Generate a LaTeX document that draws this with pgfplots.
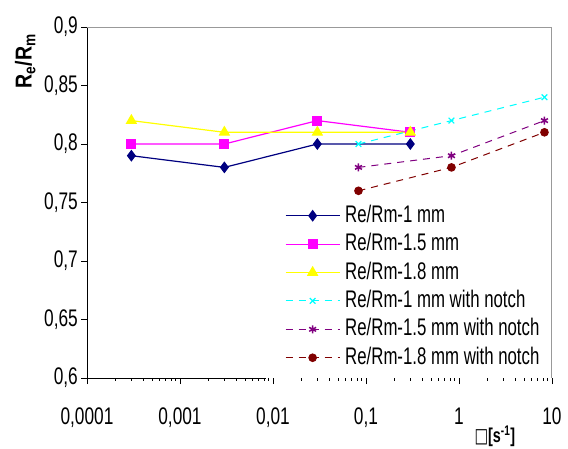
\documentclass[border=0pt]{standalone}
\usepackage{pgfplots}
\pgfplotsset{compat=1.18}
\usepackage{fontspec}
\setmainfont{Liberation Sans}
\newfontfamily\dejavu{DejaVu Sans}
\newcommand{\nar}[1]{\scalebox{0.72}[1]{#1}}
\newcommand{\narl}[1]{\scalebox{0.70}[1]{#1}}
\definecolor{cNavy}{RGB}{0,0,128}
\definecolor{cMag}{RGB}{255,0,255}
\definecolor{cYel}{RGB}{255,255,0}
\definecolor{cCya}{RGB}{0,255,255}
\definecolor{cPur}{RGB}{128,0,128}
\definecolor{cDred}{RGB}{128,0,0}
\begin{document}
\begin{tikzpicture}
\path[use as bounding box] (-87pt,-70pt) rectangle (481pt,378pt);
\begin{axis}[
  scale only axis, width=465pt, height=351pt,
  anchor=south west, at={(0pt,0pt)},
  xmode=log, xmin=1e-4, xmax=10, ymin=0.6, ymax=0.9,
  axis x line*=bottom, axis y line*=left,
  x axis line style={draw=none},
  y axis line style={black, line width=0.9pt},
  xtick={0.0001,0.001,0.01,0.1,1,10},
  xticklabels={{\nar{0,0001}},{\nar{0,001}},{\nar{0,01}},{\nar{0,1}},{\nar{1}},{\nar{10}}},
  minor xtick={},
  ytick={0.6,0.65,0.7,0.75,0.8,0.85,0.9},
  yticklabels={{\nar{0,6}},{\nar{0,65}},{\nar{0,7}},{\nar{0,75}},{\nar{0,8}},{\nar{0,85}},{\nar{0,9}}},
  tick align=outside, major tick length=6pt,
  tick style={black, line width=0.9pt},
  xticklabel style={yshift=-20pt, font=\fontsize{24}{26}\selectfont},
  yticklabel style={inner xsep=3pt, font=\fontsize{24}{26}\selectfont},
  ylabel={\scalebox{0.85}[1]{\textbf{R\textsubscript{e}/R\textsubscript{m}}}},
  ylabel style={at={(axis description cs:-0.133,0.903)}, anchor=center, font=\fontsize{23}{25}\selectfont},
  xlabel={\scalebox{0.72}[1]{\textbf{{\dejavu\mdseries □}[s\textsuperscript{-1}]}}},
  xlabel style={at={(axis description cs:0.877,-0.166)}, anchor=center, font=\fontsize{20}{22}\selectfont},
  legend style={at={(rel axis cs:0.419,0.507)}, anchor=north west, fill=white, draw=none,
    font=\fontsize{24}{26}\selectfont, row sep=1.4pt, column sep=3pt,
    nodes={inner sep=2pt, text height=18pt, text depth=5pt}},
  legend cell align=left,
  legend image code/.code={\draw[#1, mark repeat=2, mark phase=2] plot coordinates {(0pt,0pt) (27pt,0pt) (54pt,0pt)};},
  every axis plot/.append style={line width=1.2pt},
]
\addplot[cNavy, mark=diamond*, mark size=5pt] coordinates {(0.0003,0.79) (0.003,0.78) (0.03,0.80) (0.3,0.80)};
\addlegendentry{\narl{Re/Rm-1 mm}}
\addplot[cMag, mark=square*, mark size=4.5pt] coordinates {(0.0003,0.80) (0.003,0.80) (0.03,0.82) (0.3,0.81)};
\addlegendentry{\narl{Re/Rm-1.5 mm}}
\addplot[cYel, mark=triangle*, mark size=5.5pt] coordinates {(0.0003,0.82) (0.003,0.81) (0.03,0.81) (0.3,0.81)};
\addlegendentry{\narl{Re/Rm-1.8 mm}}
\addplot[cCya, dash pattern=on 7pt off 6pt, line width=1pt, mark=x, mark size=4pt, mark options={solid, line width=1.2pt}] coordinates {(0.083,0.80) (0.83,0.82) (8.3,0.84)};
\addlegendentry{\narl{Re/Rm-1 mm with notch}}
\addplot[cPur, dash pattern=on 7pt off 6pt, line width=1pt, mark=asterisk, mark size=4pt, mark options={solid, line width=1.5pt}] coordinates {(0.083,0.78) (0.83,0.79) (8.3,0.82)};
\addlegendentry{\narl{Re/Rm-1.5 mm with notch}}
\addplot[cDred, dash pattern=on 7pt off 6pt, line width=1pt, mark=*, mark size=3.8pt, mark options={solid}] coordinates {(0.083,0.76) (0.83,0.78) (8.3,0.81)};
\addlegendentry{\narl{Re/Rm-1.8 mm with notch}}
\draw[gray!80, line width=1pt] (rel axis cs:0,1) -- (rel axis cs:1,1) -- (rel axis cs:1,0);
\draw[black, line width=0.9pt] (rel axis cs:0,0) -- (rel axis cs:0.385,0);
\end{axis}
\end{tikzpicture}
\end{document}
